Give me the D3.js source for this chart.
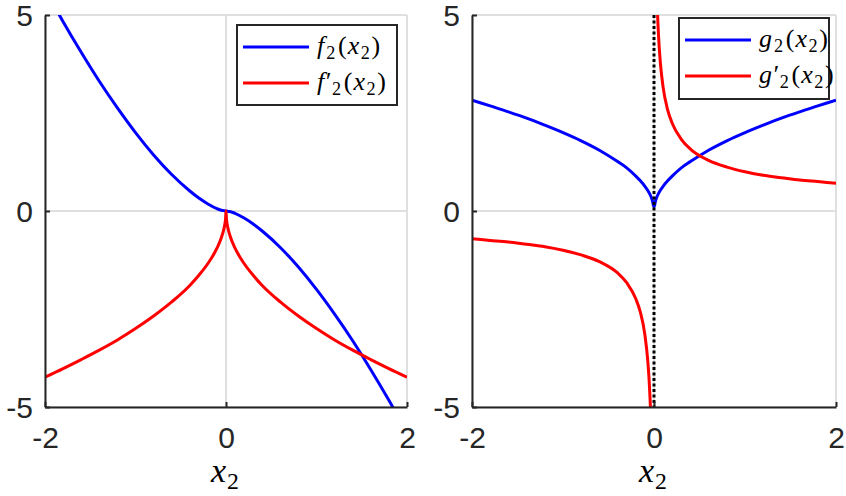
<!DOCTYPE html>
<html>
<head>
<meta charset="utf-8">
<script src="https://cdn.jsdelivr.net/npm/d3@7"></script>
<style>
  body { margin: 0; background: #fff; }
  svg { display: block; }
</style>
</head>
<body>
<svg id="chart" width="846" height="496"></svg>
<script>
// values
const xLeft = [-2, -1.8, -1.6, -1.4, -1.2, -1, -0.8, -0.6, -0.4, -0.3, -0.2, -0.1, -0.05, -0.02, -0.005, 0,
  0.005, 0.02, 0.05, 0.1, 0.2, 0.3, 0.4, 0.6, 0.8, 1, 1.2, 1.4, 1.6, 1.8, 2];
const f2 = [5.66, 4.83, 4.05, 3.31, 2.63, 2.00, 1.43, 0.93, 0.51, 0.33, 0.18, 0.06, 0.02, 0.01, 0.00, 0,
  0.00, -0.01, -0.02, -0.06, -0.18, -0.33, -0.51, -0.93, -1.43, -2.00, -2.63, -3.31, -4.05, -4.83, -5.66];
const f2d = [-4.24, -4.02, -3.79, -3.55, -3.29, -3.00, -2.68, -2.32, -1.90, -1.64, -1.34, -0.95, -0.67, -0.42, -0.21, 0,
  -0.21, -0.42, -0.67, -0.95, -1.34, -1.64, -1.90, -2.32, -2.68, -3.00, -3.29, -3.55, -3.79, -4.02, -4.24];

const xRight = [-2, -1.8, -1.6, -1.4, -1.2, -1, -0.8, -0.6, -0.4, -0.3, -0.2, -0.15, -0.1, -0.07, -0.05, -0.03, -0.015, -0.003,
  0.003, 0.015, 0.03, 0.05, 0.07, 0.1, 0.15, 0.2, 0.3, 0.4, 0.6, 0.8, 1, 1.2, 1.4, 1.6, 1.8, 2];
const g2 = [2.83, 2.68, 2.53, 2.37, 2.19, 2.00, 1.79, 1.55, 1.26, 1.10, 0.89, 0.77, 0.63, 0.53, 0.45, 0.35, 0.24, 0.11,
  0.11, 0.24, 0.35, 0.45, 0.53, 0.63, 0.77, 0.89, 1.10, 1.26, 1.55, 1.79, 2.00, 2.19, 2.37, 2.53, 2.68, 2.83];
const g2d = [-0.71, -0.75, -0.79, -0.85, -0.91, -1.00, -1.12, -1.29, -1.58, -1.83, -2.24, -2.58, -3.16, -3.78, -4.47, -5.77, -8.16, -18.3,
  18.3, 8.16, 5.77, 4.47, 3.78, 3.16, 2.58, 2.24, 1.83, 1.58, 1.29, 1.12, 1.00, 0.91, 0.85, 0.79, 0.75, 0.71];

const xTicks = [-2, 0, 2];
const yTicks = [-5, 0, 5];

const AXIS_COLOR = "#262626";
const GRID_COLOR = "#dfdfdf";
const SERIF = "Liberation Serif";
const SANS = "Liberation Sans";
const TOP = 15, BOTTOM = 407;

const svg = d3.select("#chart");

const y = d3.scaleLinear().domain([-5, 5]).range([BOTTOM, TOP]);

// pieces of a LaTeX-ish label, placed one after another
const mathText = (g, x0, yb, pieces, size) => {
    let cx = x0;
    pieces.forEach(p => {
        const t = g.append("text")
            .attr("x", cx)
            .attr("y", yb + (p.sub ? size * 0.2 : 0))
            .attr("font-family", SERIF)
            .attr("font-size", p.sub ? size * 0.7 : size)
            .attr("font-style", p.it ? "italic" : "normal")
            .attr("fill", "#000")
            .text(p.t);
        cx += t.node().getComputedTextLength() + (p.gap || 0) * size;
    });
};

const fnPieces = (name, prime) => [
    { t: prime ? name + "′" : name, it: true, gap: 0.08 },
    { t: "2", sub: true, gap: 0.1 },
    { t: "(", gap: 0.04 },
    { t: "x", it: true, gap: 0.06 },
    { t: "2", sub: true, gap: 0.06 },
    { t: ")" }
];

const panels = [
    {
        id: "left", range: [45, 407], xs: xLeft,
        series: [
            { values: f2, color: "#0000ff", name: "f", prime: false },
            { values: f2d, color: "#ff0000", name: "f", prime: true }
        ],
        legend: { x: 237, y: 25, w: 160, h: 80 },
        vline: false
    },
    {
        id: "right", range: [472, 836], xs: xRight,
        series: [
            { values: g2, color: "#0000ff", name: "g", prime: false, split: false },
            { values: g2d, color: "#ff0000", name: "g", prime: true, split: true }
        ],
        legend: { x: 679, y: 18, w: 150, h: 81 },
        vline: true
    }
];

panels.forEach(p => {
    const x = d3.scaleLinear().domain([-2, 2]).range(p.range);
    const g = svg.append("g").attr("id", p.id);

    // grid
    g.append("g").selectAll("line.gx")
        .data(xTicks).enter().append("line")
        .attr("x1", d => x(d)).attr("x2", d => x(d))
        .attr("y1", TOP).attr("y2", BOTTOM)
        .attr("stroke", GRID_COLOR).attr("stroke-width", 2);
    g.append("g").selectAll("line.gy")
        .data(yTicks).enter().append("line")
        .attr("x1", p.range[0]).attr("x2", p.range[1])
        .attr("y1", d => y(d)).attr("y2", d => y(d))
        .attr("stroke", GRID_COLOR).attr("stroke-width", 2);

    g.append("clipPath").attr("id", "clip-" + p.id)
        .append("rect")
        .attr("x", p.range[0]).attr("y", TOP)
        .attr("width", p.range[1] - p.range[0]).attr("height", BOTTOM - TOP);

    const plot = g.append("g").attr("clip-path", `url(#clip-${p.id})`);

    const line = d3.line()
        .x(d => x(d[0]))
        .y(d => y(d[1]))
        .curve(d3.curveMonotoneX);

    p.series.forEach(s => {
        const pts = p.xs.map((v, i) => [v, s.values[i]]);
        const parts = s.split ? [pts.filter(d => d[0] < 0), pts.filter(d => d[0] > 0)] : [pts];
        parts.forEach(part => {
            plot.append("path")
                .attr("d", line(part))
                .attr("fill", "none")
                .attr("stroke", s.color)
                .attr("stroke-width", 3)
                .attr("stroke-linejoin", "round");
        });
    });

    if (p.vline) {
        plot.append("line")
            .attr("x1", x(0)).attr("x2", x(0))
            .attr("y1", TOP).attr("y2", BOTTOM)
            .attr("stroke", "#000")
            .attr("stroke-width", 3)
            .attr("stroke-dasharray", "3,2.5");
    }

    // axes
    const yAxis = g.append("g")
        .attr("transform", `translate(${p.range[0]},0)`)
        .call(d3.axisLeft(y).tickValues(yTicks).tickSizeInner(-5).tickSizeOuter(0)
            .tickPadding(12).tickFormat(d => String(d)));
    const xAxis = g.append("g")
        .attr("transform", `translate(0,${BOTTOM})`)
        .call(d3.axisBottom(x).tickValues(xTicks).tickSizeInner(-5).tickSizeOuter(0)
            .tickPadding(20).tickFormat(d => String(d)));

    [yAxis, xAxis].forEach(a => {
        a.attr("font-family", SANS).attr("font-size", 30);
        a.select(".domain").attr("stroke", AXIS_COLOR).attr("stroke-width", 2);
        a.selectAll(".tick line").attr("stroke", AXIS_COLOR).attr("stroke-width", 2);
        a.selectAll(".tick text").attr("fill", AXIS_COLOR);
    });
    yAxis.selectAll(".tick text").attr("dy", "0.36em");

    // x label
    const lab = g.append("g");
    mathText(lab, x(0) - 15, 482, [{ t: "x", it: true, gap: 0.03 }, { t: "2", sub: true }], 34);

    // legend
    const L = p.legend;
    const lg = g.append("g");
    lg.append("rect")
        .attr("x", L.x).attr("y", L.y)
        .attr("width", L.w).attr("height", L.h)
        .attr("fill", "#fff")
        .attr("stroke", AXIS_COLOR)
        .attr("stroke-width", 2);
    p.series.forEach((s, i) => {
        const ly = L.y + 22 + i * 36;
        lg.append("line")
            .attr("x1", L.x + 6).attr("x2", L.x + 72)
            .attr("y1", ly).attr("y2", ly)
            .attr("stroke", s.color).attr("stroke-width", 3);
        mathText(lg, L.x + 80, ly + 7, fnPieces(s.name, s.prime), 26);
    });
});
</script>
</body>
</html>
